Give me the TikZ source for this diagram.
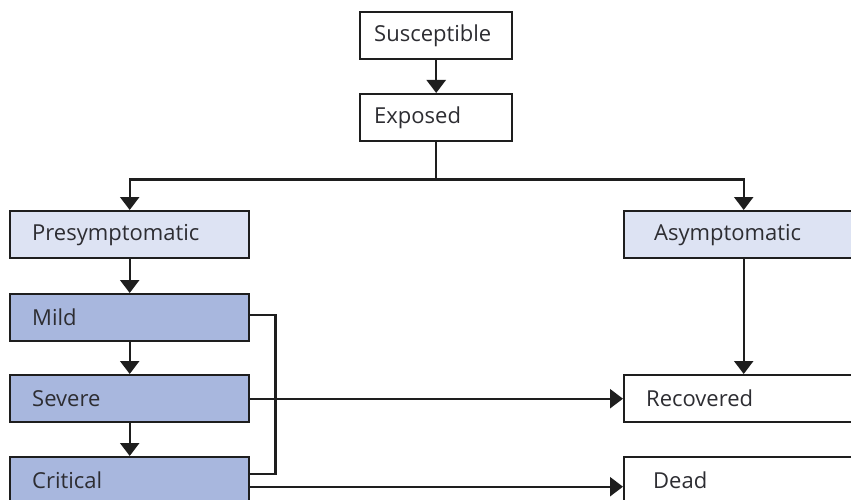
\documentclass[tikz,border=0pt]{standalone}
\usepackage{fontspec}
\setmainfont{Open Sans}
\usetikzlibrary{arrows.meta,calc}
\definecolor{lightfill}{RGB}{221,227,243}
\definecolor{darkfill}{RGB}{168,183,222}
\definecolor{txt}{RGB}{45,45,50}
\definecolor{ln}{RGB}{30,30,30}
\tikzset{
  box/.style={draw=ln, line width=2.4pt, rectangle, anchor=north west,
    minimum height=47pt, text=txt, font=\fontsize{22}{24}\selectfont,
    align=left},
  topbox/.style={box, fill=white, minimum width=152pt, inner xsep=14pt, text width=124pt},
  widebox/.style={box, minimum width=239pt, inner xsep=22pt, text width=195pt},
  lightbox/.style={widebox, fill=lightfill},
  darkbox/.style={widebox, fill=darkfill},
  whitebox/.style={widebox, fill=white},
  conn/.style={draw=ln, line width=2.4pt},
  arr/.style={conn, -{Triangle[width=19pt,length=13pt]}},
}
\begin{document}
\begin{tikzpicture}[x=1pt,y=-1pt]
\useasboundingbox (0,0) rectangle (851,500);
\clip (0,0) rectangle (851,500);
\node[topbox] (sus) at (359,11) {Susceptible};
\node[topbox] (exp) at (359,93) {Exposed};
\node[lightbox] (pre) at (9,210) {Presymptomatic};
\node[lightbox, inner xsep=30pt, text width=179pt] (asy) at (623,210) {Asymptomatic};
\node[darkbox] (mild) at (9,293) {Mild};
\node[darkbox] (sev) at (9,374) {Severe};
\node[darkbox] (crit) at (9,456) {Critical};
\node[whitebox] (rec) at (623,374) {Recovered};
\node[whitebox, inner xsep=29pt, text width=181pt] (dead) at (623,456) {Dead};
\coordinate (split) at ($(exp.south)+(0,37)$);
\draw[arr] (sus) -- (exp);
\draw[arr] (exp.south) -- (split) -| (pre.north);
\draw[arr] (split) -| (asy.north);
\draw[arr] (pre) -- (mild);
\draw[arr] (mild) -- (sev);
\draw[arr] (sev) -- (crit);
\draw[arr] (asy) -- (rec);
\draw[conn] ([yshift=3pt]mild.east) -- ++(25,0) coordinate (bt) |- ([yshift=7pt]crit.east);
\draw[arr] (sev.east) -- (rec.west);
\draw[arr] ([yshift=-6pt]crit.east) -- ([yshift=-6pt]dead.west);
\end{tikzpicture}
\end{document}
